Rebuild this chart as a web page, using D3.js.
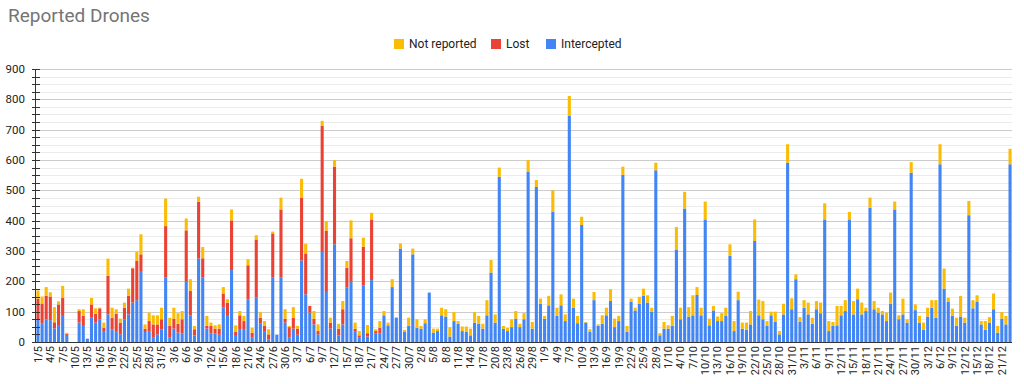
<!DOCTYPE html>
<html><head><meta charset="utf-8">
<script src="https://cdn.jsdelivr.net/npm/d3@7"></script>
<style>
body{margin:0;background:#fff;}
svg{display:block;font-family:Roboto, Arial, sans-serif;}
</style></head>
<body><svg id="c" width="1024" height="384"></svg>
<script>
const categories = [].concat(
 "1/5 2/5 3/5 4/5 5/5 6/5 7/5 8/5 9/5 10/5 11/5 12/5 13/5 14/5 15/5 16/5 17/5 18/5 19/5 20/5 21/5 22/5 23/5 24/5 25/5 26/5 27/5 28/5 29/5 30/5 31/5".split(" "),
 "1/6 2/6 3/6 4/6 5/6 6/6 7/6 8/6 9/6 10/6 11/6 12/6 13/6 14/6 15/6 16/6 17/6 18/6 19/6 20/6 21/6 22/6 23/6 24/6 25/6 26/6 27/6 28/6 29/6 30/6".split(" "),
 "1/7 2/7 3/7 4/7 5/7 6/7 7/7 8/7 9/7 10/7 11/7 12/7 13/7 14/7 15/7 16/7 17/7 18/7 19/7 20/7 21/7 22/7 23/7 24/7 25/7 26/7 27/7 28/7 29/7 30/7 31/7".split(" "),
 "1/8 2/8 3/8 4/8 5/8 6/8 7/8 8/8 9/8 10/8 11/8 12/8 13/8 14/8 15/8 16/8 17/8 18/8 19/8 20/8 21/8 22/8 23/8 24/8 25/8 26/8 27/8 28/8 29/8 30/8 31/8".split(" "),
 "1/9 2/9 3/9 4/9 5/9 6/9 7/9 8/9 9/9 10/9 11/9 12/9 13/9 14/9 15/9 16/9 17/9 18/9 19/9 20/9 21/9 22/9 23/9 24/9 25/9 26/9 27/9 28/9 29/9 30/9".split(" "),
 "1/10 2/10 3/10 4/10 5/10 6/10 7/10 8/10 9/10 10/10 11/10 12/10 13/10 14/10 15/10 16/10 17/10 18/10 19/10 20/10 21/10 22/10 23/10 24/10 25/10 26/10 27/10 28/10 29/10 30/10 31/10".split(" "),
 "1/11 2/11 3/11 4/11 5/11 6/11 7/11 8/11 9/11 10/11 11/11 12/11 13/11 14/11 15/11 16/11 17/11 18/11 19/11 20/11 21/11 22/11 23/11 24/11 25/11 26/11 27/11 28/11 29/11 30/11".split(" "),
 "1/12 2/12 3/12 4/12 5/12 6/12 7/12 8/12 9/12 10/12 11/12 12/12 13/12 14/12 15/12 16/12 17/12 18/12 19/12 20/12 21/12 22/12 23/12".split(" ")
);

const tickLabels = ["1/5","4/5","7/5","10/5","13/5","16/5","19/5","22/5","25/5","28/5","31/5","3/6","6/6","9/6","12/6","15/6","18/6","21/6","24/6","27/6","30/6","3/7","6/7","9/7","12/7","15/7","18/7","21/7","24/7","27/7","30/7","2/8","5/8","8/8","11/8","14/8","17/8","20/8","23/8","26/8","29/8","1/9","4/9","7/9","10/9","13/9","16/9","19/9","22/9","25/9","28/9","1/10","4/10","7/10","10/10","13/10","16/10","19/10","22/10","25/10","28/10","31/10","3/11","6/11","9/11","12/11","15/11","18/11","21/11","24/11","27/11","30/11","3/12","6/12","9/12","12/12","15/12","18/12","21/12"];

const yTicks = [0,100,200,300,400,500,600,700,800,900];

const intercepted = [75,62,75,72,45,56,86,20,0,0,64,53,11,82,64,75,36,91,42,36,25,75,91,130,138,234,33,36,14,25,42,212,16,44,31,29,201,88,22,275,212,44,29,29,24,113,86,237,20,40,40,141,14,146,62,36,9,212,24,212,64,14,44,24,269,157,97,58,25,297,165,44,322,22,58,179,201,36,14,187,18,204,29,29,88,55,181,80,308,33,53,289,47,44,62,163,31,36,88,84,18,69,60,36,33,22,64,60,44,88,229,64,545,44,36,49,77,49,75,562,44,511,126,77,121,430,86,121,69,745,113,62,386,64,33,138,53,60,88,135,49,69,551,33,132,104,126,152,130,99,566,22,44,44,53,305,75,440,84,88,155,88,404,55,104,69,69,86,284,36,138,44,40,58,333,88,75,53,88,66,25,91,591,108,207,66,113,91,60,108,95,404,36,53,55,88,102,404,91,141,91,102,443,108,97,91,69,126,437,75,91,64,558,105,64,40,84,113,80,586,176,132,86,53,84,64,418,111,132,58,40,64,108,31,77,58,586];

const lost = [68,65,77,78,20,68,59,6,0,0,38,33,0,42,29,36,11,127,38,57,39,38,61,113,129,55,11,33,44,33,33,170,37,33,29,46,167,80,20,187,64,9,24,15,20,47,44,164,13,48,29,112,17,192,18,17,16,146,0,225,13,35,36,20,207,135,22,19,11,415,201,20,256,22,50,66,141,8,8,127,11,200,7,18];

const notReported = [27,23,29,14,50,10,40,4,0,0,6,22,0,21,18,2,17,57,33,15,13,17,24,2,30,66,14,28,30,30,38,91,27,36,35,27,39,39,11,17,37,33,11,11,14,21,11,36,22,14,17,20,16,14,19,16,17,6,0,39,31,4,35,9,62,32,0,25,22,17,33,16,22,16,27,22,59,20,14,30,27,22,6,22,14,9,26,2,17,7,27,19,28,9,13,0,13,8,25,24,31,30,9,15,18,22,35,26,16,50,41,27,30,9,11,26,25,11,20,38,22,23,17,9,31,70,27,36,22,66,30,24,27,2,9,27,5,28,25,39,28,17,27,20,11,9,23,24,24,14,25,7,22,11,33,74,38,55,31,66,26,25,59,22,15,15,26,27,38,33,28,20,24,44,71,52,60,16,12,34,11,35,61,36,16,16,25,39,20,27,35,53,33,13,64,31,36,25,44,35,39,11,33,27,16,11,28,37,26,13,52,11,35,19,22,24,29,25,58,66,66,14,24,27,68,16,47,27,22,11,29,18,52,22,22,28,51];

const seriesNames = ["Intercepted","Lost","Not reported"];
const colors = {"Intercepted":"#4285f4","Lost":"#ea4335","Not reported":"#fbbc04"};
const legendOrder = ["Not reported","Lost","Intercepted"];

const rows = categories.map((c,i)=>({cat:c,"Intercepted":intercepted[i]||0,"Lost":lost[i]||0,"Not reported":notReported[i]||0}));

const svg = d3.select("#c");
const pLeft = 35, pRight = 1012, pTop = 69, pBottom = 342;

const x = d3.scaleBand().domain(categories).range([pLeft+1, pRight]).paddingInner(0.25).paddingOuter(0.1);
const y = d3.scaleLinear().domain([0,900]).range([pBottom, pTop]);

// grid
const minor = d3.range(0, 901, 25);
svg.append("g").selectAll("line").data(minor).join("line")
  .attr("x1", pLeft).attr("x2", pRight)
  .attr("y1", d=>Math.round(y(d))+0.5).attr("y2", d=>Math.round(y(d))+0.5)
  .attr("stroke", d=> d%100===0 ? "#cccccc" : "#ebebeb").attr("stroke-width",1);

// bars
const stack = d3.stack().keys(seriesNames)(rows);
svg.append("g").selectAll("g").data(stack).join("g")
  .attr("fill", d=>colors[d.key])
  .selectAll("rect").data(d=>d).join("rect")
  .attr("x", d=>x(d.data.cat))
  .attr("width", x.bandwidth())
  .attr("y", d=>y(d[1]))
  .attr("height", d=>Math.max(0, y(d[0]) - y(d[1])));

// y axis line + ticks
const ya = svg.append("g");
ya.append("line").attr("x1",pLeft+0.5).attr("x2",pLeft+0.5).attr("y1",pTop).attr("y2",pBottom).attr("stroke","#333");
ya.selectAll("line.t").data(minor).join("line").attr("class","t")
  .attr("x1", pLeft-3).attr("x2", pLeft+5)
  .attr("y1", d=>Math.round(y(d))+0.5).attr("y2", d=>Math.round(y(d))+0.5)
  .attr("stroke","#333");
ya.selectAll("text").data(yTicks).join("text")
  .attr("x", 25).attr("y", d=>y(d)).attr("dy","0.35em")
  .attr("text-anchor","end").attr("font-size","11.5px").attr("fill","#222")
  .text(d=>d);

// x axis
const xa = svg.append("g").attr("transform",`translate(0,${pBottom})`)
  .call(d3.axisBottom(x).tickValues(tickLabels).tickSize(0).tickPadding(4));
xa.select(".domain").attr("stroke","#333").attr("d",`M${pLeft},0.5H${pRight}`);
xa.selectAll("text").attr("font-size","11px").attr("fill","#222")
  .attr("font-family","Roboto, Arial, sans-serif")
  .attr("transform","rotate(-90)").attr("text-anchor","end")
  .attr("x",-4).attr("y",0).attr("dy","0.35em");

// title
svg.append("text").attr("x",8).attr("y",22).attr("font-size","19px").attr("fill","#757575").text("Reported Drones");

// legend
const legX = {"Not reported":394,"Lost":491,"Intercepted":546};
const lg = svg.append("g");
legendOrder.forEach(k=>{
  lg.append("rect").attr("x",legX[k]).attr("y",39).attr("width",10).attr("height",10).attr("fill",colors[k]);
  lg.append("text").attr("x",legX[k]+15).attr("y",44).attr("dy","0.35em").attr("font-size","12px").attr("fill","#222").text(k);
});
</script></body></html>
